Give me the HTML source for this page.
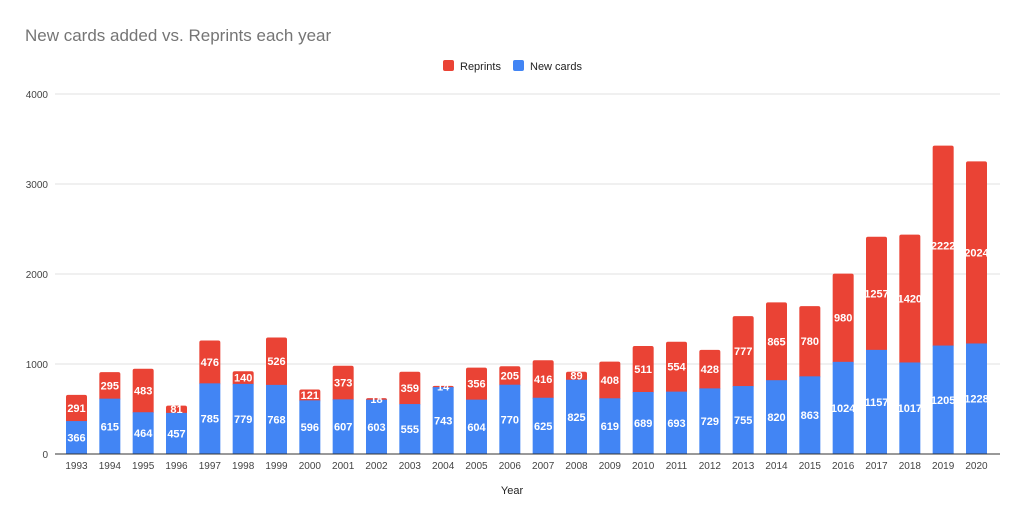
<!DOCTYPE html>
<html><head><meta charset="utf-8"><style>
body{margin:0;background:#fff;font-family:"Liberation Sans",Arial,sans-serif}
</style></head><body>
<svg id="c" width="1024" height="522" xmlns="http://www.w3.org/2000/svg" font-family="Liberation Sans, Arial, sans-serif">
<text x="25" y="41" font-size="17" fill="#757575">New cards added vs. Reprints each year</text>
<rect x="443" y="60" width="11" height="11" rx="2" fill="#ea4335"/>
<text x="460" y="70" font-size="11" fill="#222">Reprints</text>
<rect x="513" y="60" width="11" height="11" rx="2" fill="#4285f4"/>
<text x="530" y="70" font-size="11" fill="#222">New cards</text>
<text x="512" y="494" font-size="11" fill="#222" text-anchor="middle">Year</text>
</svg>
<script>
var s=document.getElementById('c'),ns='http://www.w3.org/2000/svg';
function el(t,a,txt){var e=document.createElementNS(ns,t);for(var k in a)e.setAttribute(k,a[k]);if(txt!=null)e.textContent=txt;s.appendChild(e);return e;}
var nw=[366,615,464,457,785,779,768,596,607,603,555,743,604,770,625,825,619,689,693,729,755,820,863,1024,1157,1017,1205,1228];
var rp=[291,295,483,81,476,140,526,121,373,18,359,14,356,205,416,89,408,511,554,428,777,865,780,980,1257,1420,2222,2024];
var y0=454,k=0.09;
for(var i=1;i<=4;i++){var y=y0-i*90;el('line',{x1:55,x2:1000,y1:y,y2:y,stroke:'#e0e0e0','stroke-width':1});el('text',{x:48,y:y+4,'font-size':10,fill:'#444','text-anchor':'end'},i*1000);}
el('text',{x:48,y:y0+4,'font-size':10,fill:'#444','text-anchor':'end'},'0');
for(var i=0;i<28;i++){
 var cx=76.5+i*900/27,x=cx-10.5;
 var hb=nw[i]*k,hr=rp[i]*k;
 el('rect',{x:x,y:y0-hb-hr,width:21,height:hr+2,rx:2,fill:'#ea4335'});
 el('rect',{x:x,y:y0-hb,width:21,height:hb,fill:'#4285f4'});
 el('text',{x:cx,y:y0-hb/2+4,'font-size':11,fill:'#fff','text-anchor':'middle','font-weight':'bold'},nw[i]);
 el('text',{x:cx,y:y0-hb-hr/2+4,'font-size':11,fill:'#fff','text-anchor':'middle','font-weight':'bold'},rp[i]);
 el('text',{x:cx,y:y0+15,'font-size':10,fill:'#444','text-anchor':'middle'},1993+i);
}
el('line',{x1:55,x2:1000,y1:y0,y2:y0,stroke:'#333','stroke-width':1});
</script>
</body></html>
